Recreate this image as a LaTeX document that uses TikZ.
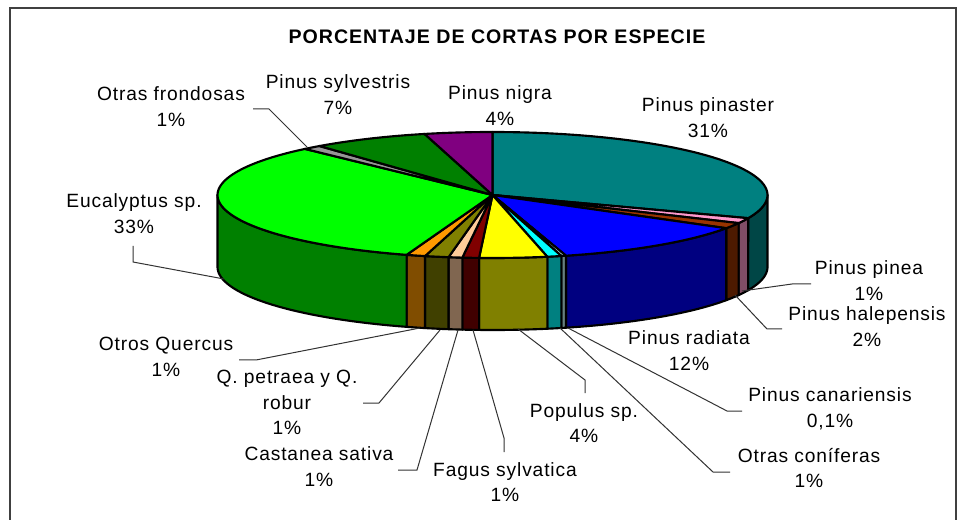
\documentclass[tikz,border=0pt]{standalone}
\usepackage{fontspec}
\newfontfamily\lblfont[LetterSpace=4.5]{Liberation Sans}
\newfontfamily\ttlfont[LetterSpace=5]{Liberation Sans}
% top colours
\definecolor{cPinaster}{HTML}{008080}
\definecolor{cPinea}{HTML}{FF99CC}
\definecolor{cHalep}{HTML}{993300}
\definecolor{cRadiata}{HTML}{0000FF}
\definecolor{cCanar}{HTML}{CCFFFF}
\definecolor{cConif}{HTML}{00FFFF}
\definecolor{cPopulus}{HTML}{FFFF00}
\definecolor{cFagus}{HTML}{800000}
\definecolor{cCastanea}{HTML}{FFCC99}
\definecolor{cQpet}{HTML}{808000}
\definecolor{cQuercus}{HTML}{FF9900}
\definecolor{cEucal}{HTML}{00FF00}
\definecolor{cFrond}{HTML}{969696}
\definecolor{cSylv}{HTML}{008000}
\definecolor{cNigra}{HTML}{800080}
% side colours
\definecolor{sPinaster}{HTML}{004646}
\definecolor{sPinea}{HTML}{804D66}
\definecolor{sHalep}{HTML}{4D1A00}
\definecolor{sRadiata}{HTML}{000080}
\definecolor{sCanar}{HTML}{668080}
\definecolor{sConif}{HTML}{008080}
\definecolor{sPopulus}{HTML}{808000}
\definecolor{sFagus}{HTML}{400000}
\definecolor{sCastanea}{HTML}{806650}
\definecolor{sQpet}{HTML}{404000}
\definecolor{sQuercus}{HTML}{804D00}
\definecolor{sEucal}{HTML}{008000}
\definecolor{frameGray}{HTML}{404040}

\def\pcx{492.5}
\def\pcy{195}
\def\prx{275}
\def\pry{63}
\def\pdp{72}

\newcommand\topslice[3]{%
  \filldraw[topface, fill=#3] (O) -- plot[domain=#1:#2, samples=60, variable=\t]
    ({\pcx+\prx*sin(\t)},{\pcy-\pry*cos(\t)}) -- cycle;}
\newcommand\sideslice[3]{%
  \filldraw[sideface, fill=#3]
    plot[domain=#1:#2, samples=40, variable=\t] ({\pcx+\prx*sin(\t)},{\pcy-\pry*cos(\t)})
    -- plot[domain=#2:#1, samples=40, variable=\t] ({\pcx+\prx*sin(\t)},{\pcy+\pdp-\pry*cos(\t)})
    -- cycle;}
\newcommand\lines[1]{\begin{tabular}[t]{@{}c@{}}#1\end{tabular}}

\begin{document}
\begin{tikzpicture}[x=0.75pt, y=-0.75pt,
  topface/.style={draw=black, line width=1.6pt, line join=round},
  sideface/.style={draw=black, line width=1.6pt, line join=round},
  lbl/.style={font=\lblfont\fontsize{14.4}{19.3}\selectfont, anchor=base, inner sep=0pt},
  ttl/.style={font=\ttlfont\bfseries\fontsize{14.7}{17}\selectfont, anchor=base, inner sep=0pt},
  leader/.style={draw=black!80, line width=0.75pt},
  frame/.style={draw=frameGray, line width=1.4pt}]
\useasboundingbox (0,0) rectangle (957,520);
\fill[white] (0,0) rectangle (957,520);
\draw[frame] (10,530) -- (10,8) -- (956,8) -- (956,530);

\node[ttl] (title) at (497,44) {PORCENTAJE DE CORTAS POR ESPECIE};

\coordinate (O) at (\pcx,\pcy);

% side faces (front half)
\sideslice{90}{111.6}{sPinaster}
\sideslice{111.6}{116.5}{sPinea}
\sideslice{116.5}{121.8}{sHalep}
\sideslice{121.8}{164.5}{sRadiata}
\sideslice{164.5}{165.5}{sCanar}
\sideslice{165.5}{168.5}{sConif}
\sideslice{168.5}{182.8}{sPopulus}
\sideslice{182.8}{186.3}{sFagus}
\sideslice{186.3}{189.2}{sCastanea}
\sideslice{189.2}{194.2}{sQpet}
\sideslice{194.2}{198.2}{sQuercus}
\sideslice{198.2}{270}{sEucal}

% top faces
\topslice{0}{111.6}{cPinaster}
\topslice{111.6}{116.5}{cPinea}
\topslice{116.5}{121.8}{cHalep}
\topslice{121.8}{164.5}{cRadiata}
\topslice{164.5}{165.5}{cCanar}
\topslice{165.5}{168.5}{cConif}
\topslice{168.5}{182.8}{cPopulus}
\topslice{182.8}{186.3}{cFagus}
\topslice{186.3}{189.2}{cCastanea}
\topslice{189.2}{194.2}{cQpet}
\topslice{194.2}{198.2}{cQuercus}
\topslice{198.2}{317}{cEucal}
\topslice{317}{321}{cFrond}
\topslice{321}{345.7}{cSylv}
\topslice{345.7}{360}{cNigra}

% labels
\node[lbl] (lnigra)    at (500,99.5)  {\lines{Pinus nigra\\4\%}};
\node[lbl] (lpinaster) at (708,111.6) {\lines{Pinus pinaster\\31\%}};
\node[lbl] (lsylv)     at (338,88.3)  {\lines{Pinus sylvestris\\7\%}};
\node[lbl] (lfrond)    at (171,100.7) {\lines{Otras frondosas\\1\%}};
\node[lbl] (leucal)    at (134,207.5) {\lines{Eucalyptus sp.\\33\%}};
\node[lbl] (lpinea)    at (869,275)   {\lines{Pinus pinea\\1\%}};
\node[lbl] (lhalep)    at (867,321)   {\lines{Pinus halepensis\\2\%}};
\node[lbl] (lradiata)  at (689,344.3) {\lines{Pinus radiata\\12\%}};
\node[lbl] (lcanar)    at (830,401.7) {\lines{Pinus canariensis\\0,1\%}};
\node[lbl] (lconif)    at (809,462)   {\lines{Otras coníferas\\1\%}};
\node[lbl] (lpopulus)  at (584,417)   {\lines{Populus sp.\\4\%}};
\node[lbl] (lfagus)    at (505,476)   {\lines{Fagus sylvatica\\1\%}};
\node[lbl] (lcast)     at (319,460.7) {\lines{Castanea sativa\\1\%}};
\node[lbl] (lqpet)     at (287,383.3) {\lines{Q. petraea y Q.\\robur\\1\%}};
\node[lbl] (lquercus)  at (166,350.7) {\lines{Otros Quercus\\1\%}};

% leader line points
\coordinate (fr1) at (307,147); \coordinate (fr2) at (269,109); \coordinate (fr3) at (253,109);
\coordinate (eu1) at (224,279); \coordinate (eu2) at (133,262); \coordinate (eu3) at (133,246);
\coordinate (pi1) at (742,291); \coordinate (pi2) at (792,284); \coordinate (pi3) at (811,284);
\coordinate (ha1) at (735,295); \coordinate (ha2) at (767,329); \coordinate (ha3) at (782,329);
\coordinate (ca1) at (568,328); \coordinate (ca2) at (727,411); \coordinate (ca3) at (742,411);
\coordinate (co1) at (560,328); \coordinate (co2) at (713,472); \coordinate (co3) at (730,472);
\coordinate (po1) at (518,329); \coordinate (po2) at (585,380); \coordinate (po3) at (585,393);
\coordinate (fa1) at (473,330); \coordinate (fa2) at (504,438); \coordinate (fa3) at (504,452);
\coordinate (cs1) at (458,330); \coordinate (cs2) at (417,470); \coordinate (cs3) at (398,470);
\coordinate (qp1) at (440,330); \coordinate (qp2) at (379,403); \coordinate (qp3) at (363,403);
\coordinate (qu1) at (420,328); \coordinate (qu2) at (256,360); \coordinate (qu3) at (239,360);

\draw[leader] (fr1) -- (fr2) -- (fr3);
\draw[leader] (eu1) -- (eu2) -- (eu3);
\draw[leader] (pi1) -- (pi2) -- (pi3);
\draw[leader] (ha1) -- (ha2) -- (ha3);
\draw[leader] (ca1) -- (ca2) -- (ca3);
\draw[leader] (co1) -- (co2) -- (co3);
\draw[leader] (po1) -- (po2) -- (po3);
\draw[leader] (fa1) -- (fa2) -- (fa3);
\draw[leader] (cs1) -- (cs2) -- (cs3);
\draw[leader] (qp1) -- (qp2) -- (qp3);
\draw[leader] (qu1) -- (qu2) -- (qu3);
\end{tikzpicture}
\end{document}
